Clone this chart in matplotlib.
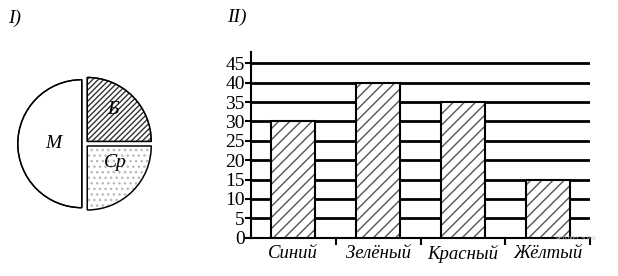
import matplotlib.pyplot as plt
from matplotlib.patches import Wedge
import numpy as np

# данные
pie_labels = ['Б', 'М', 'Ср']
pie_values = [25, 50, 25]

colors_names = ['Синий', 'Зелёный', 'Красный', 'Жёлтый']
colors_values = [30, 40, 35, 15]
y_ticks = [0, 5, 10, 15, 20, 25, 30, 35, 40, 45]

plt.rcParams['font.family'] = ['Liberation Serif', 'DejaVu Serif']
plt.rcParams['hatch.linewidth'] = 1.0

fig = plt.figure(figsize=(6.18, 2.76), dpi=100)

# I) круговая диаграмма
R = 64.0
ax1 = fig.add_axes([(85 - 80) / 618, (276 - 143.7 - 80) / 276, 160 / 618, 160 / 276])
wedges, _ = ax1.pie(pie_values, startangle=0, counterclock=True,
                    explode=[0.05, 0.05, 0.05], radius=1.0,
                    wedgeprops=dict(linewidth=1.0, edgecolor='black', facecolor='white'))
wedges[0].set_hatch('//////')
wedges[0].set_edgecolor('#333333')
wedges[2].set_hatch('...')
wedges[2].set_edgecolor('#b8b8b8')
# контуры поверх штриховки
for w in wedges:
    ax1.add_patch(Wedge(w.center, w.r, w.theta1, w.theta2,
                        facecolor='none', edgecolor='black', linewidth=1.0))
ax1.set_xlim(-80 / R, 80 / R)
ax1.set_ylim(-80 / R, 80 / R)
ax1.set_aspect('equal')
ax1.axis('off')
ax1.text(0.44, 0.54, pie_labels[0], fontsize=14, style='italic', ha='center', va='center')
ax1.text(-0.50, 0.0, pie_labels[1], fontsize=14, style='italic', ha='center', va='center')
ax1.text(0.47, -0.30, pie_labels[2], fontsize=14, style='italic', ha='center', va='center')

# II) столбчатая диаграмма
ax2 = fig.add_axes([251 / 618, (276 - 237.7) / 276, 339 / 618, 185.7 / 276])
x = np.arange(len(colors_names)) + 0.5
ax2.bar(x, colors_values, width=0.52, facecolor='white', edgecolor='#555555',
        hatch='///', linewidth=0, zorder=3)
ax2.bar(x, colors_values, width=0.52, facecolor='none', edgecolor='black',
        linewidth=1.5, zorder=4)
ax2.set_xlim(0, 4)
ax2.set_ylim(0, 45 * 185.7 / 174.4)
ax2.set_yticks(y_ticks)
ax2.yaxis.grid(True, color='black', linewidth=2)
ax2.set_axisbelow(True)
for s in ['top', 'right']:
    ax2.spines[s].set_visible(False)
ax2.spines['left'].set_linewidth(1.5)
ax2.spines['bottom'].set_linewidth(1.5)
ax2.tick_params(axis='y', direction='out', length=4, width=1.5, pad=0.5, labelsize=14)
ax2.set_xticks([1, 2, 3, 4])
ax2.set_xticklabels([])
ax2.set_xticks(x, minor=True)
ax2.set_xticklabels(colors_names, minor=True, fontsize=13.5, style='italic')
ax2.tick_params(axis='x', which='major', direction='out', length=5, width=1.5)
ax2.tick_params(axis='x', which='minor', length=0, pad=5)

fig.text(8 / 618, 1 - 18 / 276, 'I)', fontsize=14, style='italic', va='center')
fig.text(227 / 618, 1 - 17 / 276, 'II)', fontsize=14, style='italic', va='center')
fig.text(596 / 618, 1 - 238 / 276, 'РЕШУЕГЭ.РФ', fontsize=4.5, color='#cccccc',
         ha='right', va='center', family=['DejaVu Sans'])

fig.savefig('out.png', dpi=100)
